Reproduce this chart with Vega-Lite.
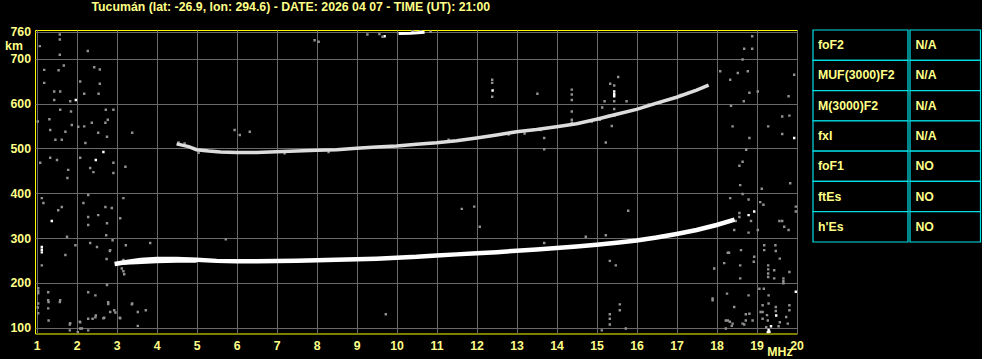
{
  "$schema": "https://vega.github.io/schema/vega-lite/v6.json",
  "background": "#000000",
  "padding": {"left": 4, "top": 0, "right": 0, "bottom": 0},
  "autosize": {"type": "pad"},
  "datasets": {
    "traces": [
      {"series": "lower", "f": 2.95, "h": 242}, {"series": "lower", "f": 3.3, "h": 247}, {"series": "lower", "f": 3.6, "h": 251}, {"series": "lower", "f": 4.0, "h": 253}, {"series": "lower", "f": 4.5, "h": 253}, {"series": "lower", "f": 5.0, "h": 251.5}, {"series": "lower", "f": 5.5, "h": 249}, {"series": "lower", "f": 6.0, "h": 248}, {"series": "lower", "f": 6.5, "h": 248}, {"series": "lower", "f": 7.0, "h": 248.5}, {"series": "lower", "f": 7.5, "h": 249.5}, {"series": "lower", "f": 8.0, "h": 250.5}, {"series": "lower", "f": 8.5, "h": 251.5}, {"series": "lower", "f": 9.0, "h": 252.5}, {"series": "lower", "f": 9.5, "h": 254}, {"series": "lower", "f": 10.0, "h": 256}, {"series": "lower", "f": 10.5, "h": 258}, {"series": "lower", "f": 11.0, "h": 261}, {"series": "lower", "f": 11.5, "h": 263.5}, {"series": "lower", "f": 12.0, "h": 266}, {"series": "lower", "f": 12.5, "h": 268.5}, {"series": "lower", "f": 13.0, "h": 271.5}, {"series": "lower", "f": 13.5, "h": 274.5}, {"series": "lower", "f": 14.0, "h": 277.5}, {"series": "lower", "f": 14.5, "h": 281}, {"series": "lower", "f": 15.0, "h": 285}, {"series": "lower", "f": 15.5, "h": 289.5}, {"series": "lower", "f": 16.0, "h": 294.5}, {"series": "lower", "f": 16.5, "h": 301}, {"series": "lower", "f": 17.0, "h": 309}, {"series": "lower", "f": 17.5, "h": 318}, {"series": "lower", "f": 18.0, "h": 329}, {"series": "lower", "f": 18.45, "h": 341},
      {"series": "lower2", "f": 3.05, "h": 244}, {"series": "lower2", "f": 3.5, "h": 246}, {"series": "lower2", "f": 4.0, "h": 248}, {"series": "lower2", "f": 4.5, "h": 249}, {"series": "lower2", "f": 5.0, "h": 249.5},
      {"series": "upper", "f": 4.5, "h": 510}, {"series": "upper", "f": 4.8, "h": 504}, {"series": "upper", "f": 5.0, "h": 497}, {"series": "upper", "f": 5.3, "h": 494}, {"series": "upper", "f": 5.6, "h": 492}, {"series": "upper", "f": 6.0, "h": 491}, {"series": "upper", "f": 6.5, "h": 491}, {"series": "upper", "f": 7.0, "h": 492.5}, {"series": "upper", "f": 7.5, "h": 494}, {"series": "upper", "f": 8.0, "h": 495.5}, {"series": "upper", "f": 8.5, "h": 497}, {"series": "upper", "f": 9.0, "h": 500}, {"series": "upper", "f": 9.5, "h": 503}, {"series": "upper", "f": 10.0, "h": 505.5}, {"series": "upper", "f": 10.5, "h": 509}, {"series": "upper", "f": 11.0, "h": 512.5}, {"series": "upper", "f": 11.5, "h": 517}, {"series": "upper", "f": 12.0, "h": 523}, {"series": "upper", "f": 12.5, "h": 530}, {"series": "upper", "f": 13.0, "h": 537}, {"series": "upper", "f": 13.5, "h": 542}, {"series": "upper", "f": 14.0, "h": 548}, {"series": "upper", "f": 14.5, "h": 555}, {"series": "upper", "f": 15.0, "h": 565}, {"series": "upper", "f": 15.5, "h": 576}, {"series": "upper", "f": 16.0, "h": 587}, {"series": "upper", "f": 16.5, "h": 601}, {"series": "upper", "f": 17.0, "h": 614}, {"series": "upper", "f": 17.5, "h": 630}, {"series": "upper", "f": 17.8, "h": 641},
      {"series": "top", "f": 10.05, "h": 756}, {"series": "top", "f": 10.35, "h": 757}, {"series": "top", "f": 10.7, "h": 759}
    ],
    "echoes": [
      {"f": 1.58, "h": 754, "a": "weak"}, {"f": 1.58, "h": 743, "a": "weak"}, {"f": 1.08, "h": 728, "a": "weak"}, {"f": 1.58, "h": 709, "a": "weak"}, {"f": 2.28, "h": 717, "a": "weak"}, {"f": 1.19, "h": 675, "a": "weak"}, {"f": 1.55, "h": 674, "a": "weak"}, {"f": 1.68, "h": 685, "a": "weak"}, {"f": 2.09, "h": 649, "a": "weak"}, {"f": 2.44, "h": 681, "a": "weak"}, {"f": 2.58, "h": 676, "a": "weak"}, {"f": 2.58, "h": 644, "a": "weak"}, {"f": 1.19, "h": 646, "a": "weak"}, {"f": 1.44, "h": 627, "a": "weak"}, {"f": 1.59, "h": 627, "a": "weak"}, {"f": 2.19, "h": 622, "a": "weak"}, {"f": 2.55, "h": 622, "a": "weak"}, {"f": 1.84, "h": 605, "a": "weak"}, {"f": 1.98, "h": 608, "a": "strong"}, {"f": 1.44, "h": 608, "a": "weak"}, {"f": 1.03, "h": 560, "a": "weak"}, {"f": 1.32, "h": 565, "a": "weak"}, {"f": 1.59, "h": 586, "a": "weak"}, {"f": 1.86, "h": 582, "a": "weak"}, {"f": 2.19, "h": 549, "a": "weak"}, {"f": 2.73, "h": 586, "a": "weak"}, {"f": 2.78, "h": 564, "a": "weak"},
      {"f": 1.34, "h": 541, "a": "weak"}, {"f": 1.88, "h": 552, "a": "weak"}, {"f": 1.72, "h": 537, "a": "weak"}, {"f": 1.47, "h": 519, "a": "weak"}, {"f": 1.63, "h": 519, "a": "weak"}, {"f": 2.04, "h": 548, "a": "weak"}, {"f": 2.22, "h": 512, "a": "weak"}, {"f": 2.38, "h": 557, "a": "weak"}, {"f": 2.72, "h": 557, "a": "weak"}, {"f": 2.76, "h": 526, "a": "weak"}, {"f": 2.54, "h": 535, "a": "weak"}, {"f": 2.92, "h": 586, "a": "weak"}, {"f": 2.67, "h": 492, "a": "strong"}, {"f": 2.48, "h": 474, "a": "strong"}, {"f": 1.34, "h": 479, "a": "weak"}, {"f": 1.09, "h": 468, "a": "weak"}, {"f": 1.51, "h": 474, "a": "weak"}, {"f": 1.79, "h": 452, "a": "weak"}, {"f": 1.77, "h": 434, "a": "weak"}, {"f": 2.09, "h": 479, "a": "weak"}, {"f": 2.34, "h": 456, "a": "weak"}, {"f": 2.42, "h": 447, "a": "weak"}, {"f": 2.92, "h": 468, "a": "weak"}, {"f": 2.92, "h": 445, "a": "weak"}, {"f": 3.22, "h": 459, "a": "weak"}, {"f": 3.39, "h": 535, "a": "weak"},
      {"f": 1.13, "h": 389, "a": "weak"}, {"f": 1.17, "h": 378, "a": "weak"}, {"f": 1.63, "h": 369, "a": "weak"}, {"f": 1.54, "h": 362, "a": "weak"}, {"f": 2.17, "h": 378, "a": "weak"}, {"f": 2.29, "h": 396, "a": "weak"}, {"f": 2.54, "h": 351, "a": "weak"}, {"f": 2.29, "h": 347, "a": "weak"}, {"f": 2.29, "h": 329, "a": "weak"}, {"f": 1.38, "h": 338, "a": "strong"}, {"f": 2.72, "h": 369, "a": "weak"}, {"f": 2.88, "h": 367, "a": "weak"}, {"f": 3.17, "h": 389, "a": "weak"}, {"f": 3.09, "h": 344, "a": "weak"}, {"f": 2.76, "h": 333, "a": "weak"}, {"f": 1.76, "h": 303, "a": "weak"}, {"f": 1.13, "h": 280, "a": "strong"}, {"f": 1.13, "h": 274, "a": "strong"}, {"f": 1.13, "h": 268, "a": "strong"}, {"f": 1.97, "h": 284, "a": "weak"}, {"f": 2.34, "h": 289, "a": "weak"}, {"f": 2.51, "h": 280, "a": "weak"}, {"f": 1.72, "h": 262, "a": "weak"}, {"f": 1.13, "h": 239, "a": "weak"}, {"f": 2.84, "h": 273, "a": "weak"}, {"f": 3.17, "h": 251, "a": "weak"},
      {"f": 1.04, "h": 188, "a": "weak"}, {"f": 1.04, "h": 182, "a": "weak"}, {"f": 1.04, "h": 177, "a": "weak"}, {"f": 1.29, "h": 179, "a": "weak"}, {"f": 1.04, "h": 154, "a": "weak"}, {"f": 1.04, "h": 132, "a": "weak"}, {"f": 1.29, "h": 161, "a": "weak"}, {"f": 1.59, "h": 161, "a": "weak"}, {"f": 1.29, "h": 143, "a": "weak"}, {"f": 1.84, "h": 110, "a": "weak"}, {"f": 2.09, "h": 112, "a": "weak"}, {"f": 2.29, "h": 179, "a": "weak"}, {"f": 2.47, "h": 172, "a": "weak"}, {"f": 2.76, "h": 195, "a": "weak"}, {"f": 2.79, "h": 157, "a": "weak"}, {"f": 2.97, "h": 134, "a": "weak"}, {"f": 2.47, "h": 123, "a": "weak"}, {"f": 2.67, "h": 121, "a": "weak"}, {"f": 3.09, "h": 121, "a": "weak"}, {"f": 2.09, "h": 98, "a": "weak"}, {"f": 3.39, "h": 154, "a": "weak"}, {"f": 1.03, "h": 145, "a": "weak"}, {"f": 1.3, "h": 157, "a": "weak"}, {"f": 1.3, "h": 116, "a": "weak"}, {"f": 1.58, "h": 157, "a": "weak"}, {"f": 1.83, "h": 107, "a": "weak"}, {"f": 1.83, "h": 94, "a": "weak"}, {"f": 2.08, "h": 113, "a": "weak"}, {"f": 2.03, "h": 90, "a": "weak"}, {"f": 2.29, "h": 120, "a": "weak"}, {"f": 2.4, "h": 120, "a": "weak"}, {"f": 2.48, "h": 127, "a": "weak"}, {"f": 2.29, "h": 94, "a": "weak"}, {"f": 2.13, "h": 98, "a": "weak"}, {"f": 2.69, "h": 122, "a": "weak"}, {"f": 2.84, "h": 135, "a": "weak"}, {"f": 2.94, "h": 139, "a": "weak"}, {"f": 3.08, "h": 122, "a": "weak"}, {"f": 2.79, "h": 153, "a": "weak"}, {"f": 3.38, "h": 152, "a": "weak"}, {"f": 3.53, "h": 135, "a": "weak"}, {"f": 3.73, "h": 139, "a": "weak"}, {"f": 3.53, "h": 104, "a": "weak"}, {"f": 9.73, "h": 130, "a": "weak"},
      {"f": 3.13, "h": 232, "a": "weak"}, {"f": 3.17, "h": 226, "a": "weak"}, {"f": 3.19, "h": 219, "a": "weak"}, {"f": 3.23, "h": 284, "a": "weak"}, {"f": 3.84, "h": 289, "a": "weak"}, {"f": 2.74, "h": 306, "a": "weak"}, {"f": 2.9, "h": 295, "a": "weak"}, {"f": 2.83, "h": 271, "a": "weak"}, {"f": 2.75, "h": 253, "a": "weak"}, {"f": 5.73, "h": 297, "a": "weak"},
      {"f": 5.95, "h": 541, "a": "weak"}, {"f": 6.08, "h": 530, "a": "weak"}, {"f": 6.33, "h": 537, "a": "weak"}, {"f": 12.39, "h": 653, "a": "weak"}, {"f": 12.39, "h": 646, "a": "weak"}, {"f": 12.4, "h": 629, "a": "strong"}, {"f": 12.39, "h": 615, "a": "weak"}, {"f": 13.52, "h": 622, "a": "weak"}, {"f": 14.38, "h": 631, "a": "weak"}, {"f": 14.38, "h": 620, "a": "weak"}, {"f": 14.38, "h": 608, "a": "weak"}, {"f": 14.38, "h": 582, "a": "weak"}, {"f": 14.38, "h": 564, "a": "weak"}, {"f": 14.38, "h": 557, "a": "weak"}, {"f": 15.34, "h": 644, "a": "weak"}, {"f": 15.44, "h": 640, "a": "weak"}, {"f": 15.44, "h": 627, "a": "strong"}, {"f": 15.44, "h": 621, "a": "strong"}, {"f": 15.44, "h": 616, "a": "strong"}, {"f": 15.2, "h": 605, "a": "weak"}, {"f": 15.44, "h": 605, "a": "weak"}, {"f": 15.75, "h": 605, "a": "weak"}, {"f": 15.54, "h": 659, "a": "weak"}, {"f": 15.44, "h": 588, "a": "weak"}, {"f": 15.3, "h": 573, "a": "weak"}, {"f": 15.45, "h": 573, "a": "weak"}, {"f": 15.38, "h": 550, "a": "weak"}, {"f": 15.14, "h": 591, "a": "weak"}, {"f": 15.08, "h": 564, "a": "weak"}, {"f": 14.88, "h": 560, "a": "weak"}, {"f": 15.23, "h": 513, "a": "weak"}, {"f": 13.69, "h": 523, "a": "weak"}, {"f": 13.69, "h": 498, "a": "weak"}, {"f": 18.09, "h": 672, "a": "weak"}, {"f": 11.63, "h": 365, "a": "weak"}, {"f": 11.94, "h": 370, "a": "weak"}, {"f": 12.08, "h": 325, "a": "weak"}, {"f": 14.73, "h": 303, "a": "weak"}, {"f": 15.23, "h": 306, "a": "weak"}, {"f": 15.79, "h": 361, "a": "weak"}, {"f": 13.69, "h": 289, "a": "weak"}, {"f": 15.33, "h": 249, "a": "weak"}, {"f": 15.48, "h": 239, "a": "weak"}, {"f": 17.94, "h": 232, "a": "weak"}, {"f": 18.19, "h": 244, "a": "weak"}, {"f": 18.28, "h": 267, "a": "weak"}, {"f": 18.61, "h": 273, "a": "weak"}, {"f": 15.58, "h": 152, "a": "weak"}, {"f": 15.58, "h": 139, "a": "weak"}, {"f": 15.33, "h": 130, "a": "weak"}, {"f": 15.33, "h": 120, "a": "weak"}, {"f": 15.33, "h": 107, "a": "weak"}, {"f": 15.13, "h": 94, "a": "weak"}, {"f": 15.73, "h": 98, "a": "weak"},
      {"f": 7.95, "h": 741, "a": "weak"}, {"f": 8.05, "h": 738, "a": "weak"}, {"f": 9.27, "h": 754, "a": "weak"}, {"f": 9.57, "h": 755, "a": "weak"}, {"f": 9.7, "h": 750, "a": "strong"}, {"f": 9.65, "h": 749, "a": "weak"}, {"f": 10.4, "h": 762, "a": "weak"}, {"f": 10.6, "h": 761, "a": "weak"}, {"f": 10.85, "h": 760, "a": "weak"},
      {"f": 4.55, "h": 513, "a": "weak"}, {"f": 4.7, "h": 511, "a": "weak"}, {"f": 5.05, "h": 490, "a": "weak"}, {"f": 7.2, "h": 489, "a": "weak"}, {"f": 8.3, "h": 492, "a": "weak"}, {"f": 11.3, "h": 519, "a": "weak"}, {"f": 12.8, "h": 531, "a": "weak"}, {"f": 13.2, "h": 533, "a": "weak"}, {"f": 13.6, "h": 541, "a": "weak"}, {"f": 16.3, "h": 598, "a": "weak"}, {"f": 16.6, "h": 602, "a": "weak"}, {"f": 17.1, "h": 619, "a": "weak"}, {"f": 17.3, "h": 624, "a": "weak"},
      {"f": 18.89, "h": 750, "a": "weak"}, {"f": 18.69, "h": 722, "a": "weak"}, {"f": 18.89, "h": 722, "a": "weak"}, {"f": 18.65, "h": 698, "a": "weak"}, {"f": 18.53, "h": 668, "a": "weak"}, {"f": 18.78, "h": 672, "a": "weak"}, {"f": 18.34, "h": 653, "a": "weak"}, {"f": 18.82, "h": 624, "a": "weak"}, {"f": 18.68, "h": 605, "a": "weak"}, {"f": 19.03, "h": 627, "a": "weak"}, {"f": 19.8, "h": 616, "a": "weak"}, {"f": 19.94, "h": 664, "a": "weak"}, {"f": 18.36, "h": 595, "a": "weak"}, {"f": 19.64, "h": 571, "a": "weak"}, {"f": 19.82, "h": 573, "a": "weak"}, {"f": 19.29, "h": 549, "a": "weak"}, {"f": 18.4, "h": 549, "a": "weak"}, {"f": 18.82, "h": 523, "a": "weak"}, {"f": 19.94, "h": 523, "a": "strong"}, {"f": 19.64, "h": 532, "a": "weak"}, {"f": 18.74, "h": 497, "a": "weak"}, {"f": 18.65, "h": 470, "a": "weak"}, {"f": 18.57, "h": 461, "a": "weak"}, {"f": 18.59, "h": 418, "a": "weak"}, {"f": 19.13, "h": 410, "a": "weak"}, {"f": 19.84, "h": 422, "a": "weak"}, {"f": 18.65, "h": 398, "a": "weak"}, {"f": 18.34, "h": 389, "a": "weak"}, {"f": 19.09, "h": 380, "a": "weak"}, {"f": 19.17, "h": 374, "a": "weak"}, {"f": 18.8, "h": 386, "a": "weak"}, {"f": 18.57, "h": 356, "a": "weak"}, {"f": 18.57, "h": 347, "a": "weak"}, {"f": 18.8, "h": 351, "a": "strong"}, {"f": 18.94, "h": 359, "a": "strong"}, {"f": 18.86, "h": 338, "a": "weak"}, {"f": 18.48, "h": 338, "a": "weak"}, {"f": 18.44, "h": 318, "a": "weak"}, {"f": 18.8, "h": 312, "a": "weak"}, {"f": 19.03, "h": 318, "a": "weak"}, {"f": 19.57, "h": 338, "a": "weak"}, {"f": 19.64, "h": 338, "a": "weak"}, {"f": 19.69, "h": 325, "a": "weak"}, {"f": 19.8, "h": 318, "a": "weak"}, {"f": 19.98, "h": 359, "a": "weak"}, {"f": 19.98, "h": 370, "a": "weak"}, {"f": 19.19, "h": 284, "a": "weak"}, {"f": 19.19, "h": 273, "a": "weak"}, {"f": 19.47, "h": 284, "a": "weak"}, {"f": 19.48, "h": 271, "a": "weak"}, {"f": 19.58, "h": 254, "a": "weak"}, {"f": 18.94, "h": 258, "a": "weak"}, {"f": 18.93, "h": 247, "a": "weak"}, {"f": 18.31, "h": 267, "a": "weak"}, {"f": 18.59, "h": 239, "a": "weak"}, {"f": 19.29, "h": 239, "a": "weak"}, {"f": 19.29, "h": 230, "a": "weak"}, {"f": 19.29, "h": 221, "a": "weak"}, {"f": 19.29, "h": 213, "a": "weak"}, {"f": 19.44, "h": 228, "a": "weak"}, {"f": 19.44, "h": 210, "a": "weak"}, {"f": 19.67, "h": 210, "a": "weak"}, {"f": 19.67, "h": 204, "a": "weak"}, {"f": 19.67, "h": 199, "a": "weak"}, {"f": 19.82, "h": 224, "a": "weak"}, {"f": 18.59, "h": 210, "a": "weak"}, {"f": 17.9, "h": 165, "a": "weak"}, {"f": 18.26, "h": 176, "a": "weak"}, {"f": 18.8, "h": 172, "a": "weak"}, {"f": 18.82, "h": 131, "a": "weak"}, {"f": 18.44, "h": 146, "a": "weak"}, {"f": 18.9, "h": 116, "a": "weak"}, {"f": 19.07, "h": 187, "a": "weak"}, {"f": 19.18, "h": 187, "a": "weak"}, {"f": 19.3, "h": 172, "a": "weak"}, {"f": 19.3, "h": 154, "a": "weak"}, {"f": 19.15, "h": 150, "a": "weak"}, {"f": 19.15, "h": 135, "a": "weak"}, {"f": 19.26, "h": 128, "a": "weak"}, {"f": 19.28, "h": 116, "a": "weak"}, {"f": 19.48, "h": 146, "a": "weak"}, {"f": 19.48, "h": 137, "a": "weak"}, {"f": 19.49, "h": 127, "a": "strong"}, {"f": 19.36, "h": 103, "a": "strong"}, {"f": 19.58, "h": 112, "a": "weak"}, {"f": 19.55, "h": 103, "a": "weak"}, {"f": 19.74, "h": 124, "a": "weak"}, {"f": 19.78, "h": 109, "a": "weak"}, {"f": 19.82, "h": 150, "a": "weak"}, {"f": 19.82, "h": 139, "a": "weak"}, {"f": 19.98, "h": 180, "a": "strong"}, {"f": 19.24, "h": 101, "a": "weak"}, {"f": 18.28, "h": 116, "a": "weak"}, {"f": 18.4, "h": 109, "a": "weak"}, {"f": 18.65, "h": 109, "a": "weak"}, {"f": 17.9, "h": 161, "a": "weak"}, {"f": 18.23, "h": 116, "a": "weak"}, {"f": 18.33, "h": 113, "a": "weak"}, {"f": 18.38, "h": 104, "a": "weak"}, {"f": 18.23, "h": 98, "a": "weak"}, {"f": 18.73, "h": 130, "a": "weak"}, {"f": 18.73, "h": 116, "a": "weak"}, {"f": 18.69, "h": 107, "a": "weak"}, {"f": 19.1, "h": 135, "a": "weak"}, {"f": 19.15, "h": 120, "a": "weak"}, {"f": 19.3, "h": 95, "a": "strong"}, {"f": 19.32, "h": 91, "a": "strong"}, {"f": 19.28, "h": 90, "a": "strong"}
    ],
    "params": [
      {"param": "foF2", "value": "N/A"},
      {"param": "MUF(3000)F2", "value": "N/A"},
      {"param": "M(3000)F2", "value": "N/A"},
      {"param": "fxI", "value": "N/A"},
      {"param": "foF1", "value": "NO"},
      {"param": "ftEs", "value": "NO"},
      {"param": "h'Es", "value": "NO"}
    ]
  },
  "spacing": 16,
  "bounds": "flush",
  "hconcat": [
    {
      "title": {
        "text": "Tucumán (lat: -26.9, lon: 294.6) - DATE: 2026 04 07 - TIME (UT): 21:00",
        "anchor": "start",
        "frame": "group",
        "dx": 56.5,
        "offset": 12.5,
        "color": "#ffff88",
        "font": "Liberation Sans",
        "fontSize": 12.3,
        "fontWeight": "bold"
      },
      "width": 762,
      "height": 303.5,
      "view": {"stroke": "#ffff00", "strokeWidth": 1, "fill": "#000000"},
      "resolve": {"scale": {"color": "independent"}},
      "encoding": {
        "x": {
          "field": "f", "type": "quantitative",
          "scale": {"domain": [0.96, 20.01], "nice": false, "zero": false},
          "axis": {
            "values": [1, 2, 3, 4, 5, 6, 7, 8, 9, 10, 11, 12, 13, 14, 15, 16, 17, 18, 19, 20],
            "labelFlush": false, "labelOverlap": false, "labelPadding": 6,
            "title": "MHz", "titleX": 744.5, "titleY": 22, "titleAlign": "center", "titleBaseline": "alphabetic"
          }
        },
        "y": {
          "field": "h", "type": "quantitative",
          "scale": {"domain": [87, 764], "nice": false, "zero": false},
          "axis": {
            "values": [100, 200, 300, 400, 500, 600, 700, 760],
            "labelOverlap": false, "labelPadding": 4.5,
            "title": "km", "titleAngle": 0, "titleX": -21.5, "titleY": 19, "titleAlign": "center", "titleBaseline": "alphabetic"
          }
        }
      },
      "layer": [
        {
          "data": {"name": "echoes"},
          "mark": {"type": "square", "size": 6, "filled": true, "opacity": 1, "clip": true},
          "encoding": {
            "color": {"field": "a", "type": "nominal", "scale": {"domain": ["weak", "strong"], "range": ["#909090", "#ffffff"]}, "legend": null}
          }
        },
        {
          "data": {"name": "traces"},
          "mark": {"type": "line", "clip": true, "strokeCap": "butt"},
          "encoding": {
            "detail": {"field": "series"},
            "color": {"field": "series", "type": "nominal", "scale": {"domain": ["lower", "lower2", "upper", "top"], "range": ["#ffffff", "#ffffff", "#dddddd", "#ffffff"]}, "legend": null},
            "strokeWidth": {"field": "series", "type": "nominal", "scale": {"domain": ["lower", "lower2", "upper", "top"], "range": [4.5, 3, 2, 3]}, "legend": null}
          }
        }
      ]
    },
    {
      "spacing": 0,
      "hconcat": [
        {
          "width": 95,
          "height": 212,
          "data": {"name": "params"},
          "view": {"stroke": null},
          "encoding": {
            "y": {"field": "param", "type": "nominal", "sort": null, "scale": {"paddingInner": 0, "paddingOuter": 0}, "axis": null}
          },
          "layer": [
            {"mark": {"type": "rect", "fill": "#000000", "stroke": "#00e0e6", "strokeWidth": 1.2}},
            {"mark": {"type": "text", "align": "left", "baseline": "middle", "dx": -42.5, "color": "#ffff88", "font": "Liberation Sans", "fontSize": 12.3, "fontWeight": "bold"}, "encoding": {"text": {"field": "param"}}}
          ]
        },
        {
          "width": 70.5,
          "height": 212,
          "data": {"name": "params"},
          "view": {"stroke": null},
          "encoding": {
            "y": {"field": "param", "type": "nominal", "sort": null, "scale": {"paddingInner": 0, "paddingOuter": 0}, "axis": null}
          },
          "layer": [
            {"mark": {"type": "rect", "fill": "#000000", "stroke": "#00e0e6", "strokeWidth": 1.2}},
            {"mark": {"type": "text", "align": "left", "baseline": "middle", "dx": -29.8, "color": "#ffff88", "font": "Liberation Sans", "fontSize": 12.3, "fontWeight": "bold"}, "encoding": {"text": {"field": "value"}}}
          ]
        }
      ]
    }
  ],
  "config": {
    "view": {"stroke": null},
    "axis": {
      "grid": true, "gridColor": "#6a6a6a", "gridWidth": 1, "gridOpacity": 1,
      "ticks": false, "tickSize": 0, "domain": false,
      "labelColor": "#ffff88", "labelFont": "Liberation Sans", "labelFontSize": 12.3, "labelFontWeight": "bold",
      "titleColor": "#ffff88", "titleFont": "Liberation Sans", "titleFontSize": 12.3, "titleFontWeight": "bold"
    }
  }
}
